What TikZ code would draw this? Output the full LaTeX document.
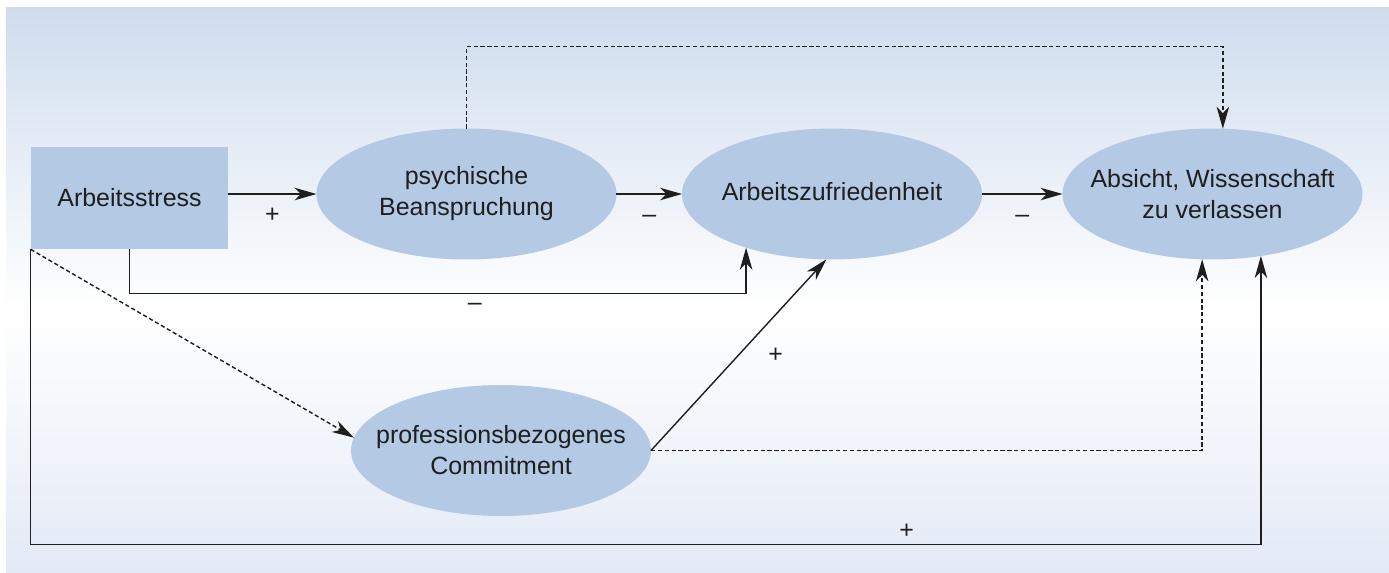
\documentclass[tikz,border=0pt]{standalone}
\usepackage{fontspec}
\setmainfont{Liberation Sans}
\usetikzlibrary{%
  arrows.meta,%
  shapes.geometric,% wg. ellipse
  positioning%
}
\definecolor{bgtop}{RGB}{207,220,238}
\definecolor{bgbot}{RGB}{227,234,246}
\definecolor{boxfill}{RGB}{179,201,228}
\definecolor{ink}{RGB}{30,30,30}

\begin{document}
\begin{tikzpicture}[
  x=0.02cm, y=-0.02cm,
  font=\fontsize{14.2pt}{17.6pt}\selectfont, text=ink,
  >={Stealth[length=4.4mm, width=2.5mm, inset=1.3mm]},
  factor/.style={rectangle, minimum width=3.94cm, minimum height=2.04cm, fill=boxfill, inner sep=0pt},
  construct/.style={ellipse, minimum width=6cm, minimum height=2.62cm, fill=boxfill, align=center, inner xsep=-1.2cm, inner ysep=0pt, outer sep=0pt},
  effect/.style={draw=ink, line width=0.8pt, ->},
  assumed/.style={effect, dash pattern=on 2.4pt off 1.5pt},
  sign/.style={inner sep=0pt}
]
\useasboundingbox (0,0) rectangle (1389,572);
% background
\fill[top color=bgtop, bottom color=white] (6,7) rectangle (1389,311);
\fill[top color=white, bottom color=bgbot] (6,310) rectangle (1389,572);

\node[factor] (str) at (129.5,198) {Arbeitsstress};
\node[construct] (psy) at (466.5,194) {psychische\\Beanspruchung};
\node[construct] (az) at (832,194) {\raisebox{3pt}{Arbeitszufriedenheit}};
\node[construct] (abs) at (1212.5,194) {Absicht, Wissenschaft\\zu verlassen};
\node[construct] (prof) at (501,450.5) {professionsbezogenes\\Commitment};

\draw[effect] (str.east |- psy.west) -- node[sign, midway, yshift=-0.42cm]{+} (psy.west);
\draw[effect] (psy.east) -- node[sign, midway, yshift=-0.5cm]{--} (az.west);
\draw[effect] (az.east) -- node[sign, midway, yshift=-0.5cm]{--} (abs.west);
\draw[effect] (str.south) -- ++(0,44) -| node[sign, pos=0.28, yshift=-0.28cm]{--} (az.-148.6);
\draw[effect] (prof.east) -- node[sign, midway, xshift=0.74cm]{+} (az.-95);
\draw[effect] (str.south west) -- ++(0,295) -| node[sign, pos=0.356, yshift=0.26cm]{+} (abs.-52.8);

\draw[assumed] (psy.north) -- ++(0,-82) -| (abs.81.8);
\draw[assumed] (str.south west) -- (prof.175);
\draw[assumed] (prof.east) -| (abs.-99);
\end{tikzpicture}
\end{document}
